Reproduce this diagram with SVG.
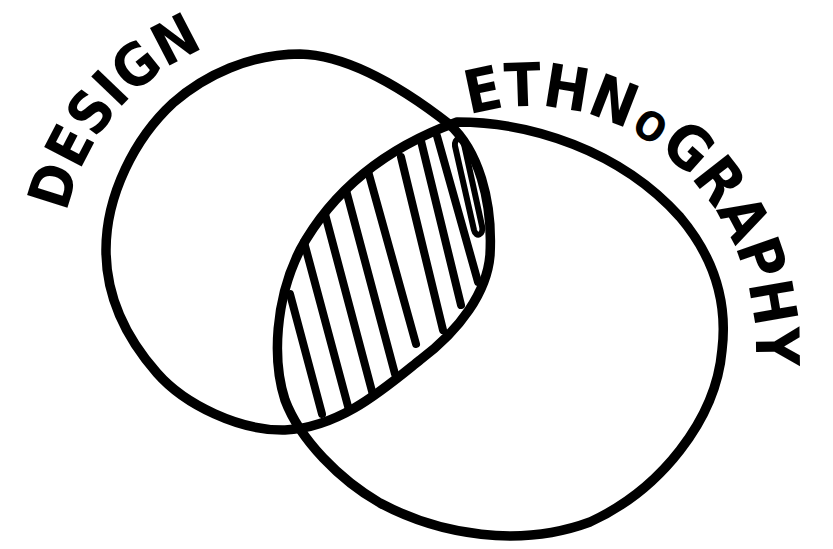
<svg xmlns="http://www.w3.org/2000/svg" width="833" height="549" viewBox="0 0 833 549">
<defs>
<style>
.ln{fill:none;stroke:#000;stroke-width:9.5;stroke-linecap:round;stroke-linejoin:round}
.h{fill:none;stroke:#000;stroke-width:8;stroke-linecap:round;stroke-linejoin:round}
.lbl{font-family:"Liberation Sans Narrow","DejaVu Sans Condensed","DejaVu Sans",sans-serif;font-weight:bold;font-stretch:condensed;fill:#000}
</style>
<path id="arcDesign" d="M 75.75,337.98 A 228,228 0 0,1 329.59,35.46"/>
<path id="arcEthno" d="M 384.73,163.1 A 226,244 0 0,1 725.72,472"/>
</defs>
<rect width="833" height="549" fill="#fff"/>
<g id="design">
<path class="ln" d="M 300,54 C 345,55 395,82 449,124 C 478,150 493,200 490,255 C 487,292 460,330 420,360 C 385,388 340,428 285,430 C 240,431 185,405 157,373 C 128,340 106,300 106,250 C 106,195 135,138 173,103 C 205,75 250,54 300,54 Z"/>
<text class="lbl" font-size="58" text-anchor="middle"><textPath href="#arcDesign" startOffset="50%">DESIGN</textPath></text>
</g>
<g id="ethnography">
<path class="ln" d="M 457,122 C 530,122 620,150 680,217 C 712,255 728,300 722,350 C 716,420 660,490 590,522 C 520,548 440,535 380,503 C 340,480 300,440 285,400 C 272,360 275,300 300,250 C 330,195 380,150 457,122 Z"/>
<text class="lbl" font-size="60" letter-spacing="-0.5" text-anchor="middle"><textPath href="#arcEthno" startOffset="49%">ETHN<tspan font-size="40" dx="3">O</tspan><tspan dx="3">GRAPHY</tspan></textPath></text>
</g>
<g id="overlap">
<path class="h" d="M290,294 L322,414"/>
<path class="h" d="M304,242 L349,410"/>
<path class="h" d="M325,214 L373,395"/>
<path class="h" d="M346,190 L395,374"/>
<path class="h" d="M368,171 L416,344"/>
<path class="h" d="M401,157 L443,330"/>
<path class="h" d="M421,141 L461,305"/>
<path class="h" d="M437,136 L478,282"/>
<path class="h" style="stroke-width:6" d="M455,146 C454,138 462,136 464,144 L482,226 C484,235 476,238 474,230 Z"/>
</g>
</svg>
